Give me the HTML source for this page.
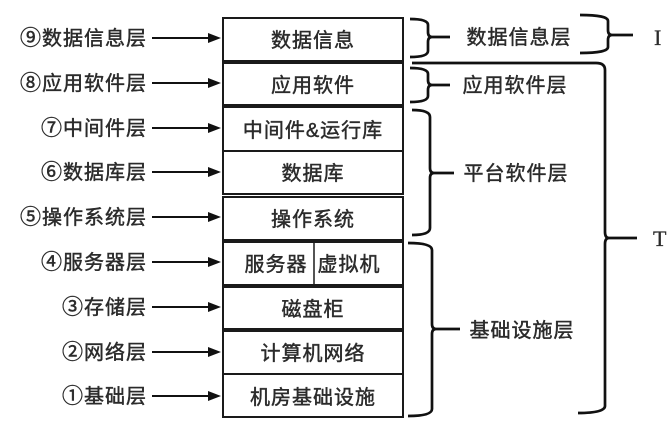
<!DOCTYPE html>
<html><head><meta charset="utf-8"><style>
html,body{margin:0;padding:0;background:#fff;}
svg{display:block;}
text{font-family:"Liberation Sans","Noto Sans CJK SC",sans-serif;font-size:20px;fill:#2b2b2b;letter-spacing:1px;stroke:#2b2b2b;stroke-width:0.45px;}
.c{font-family:"Noto Sans CJK SC",sans-serif;font-size:21px;}
.s{font-family:"Liberation Serif","Noto Serif CJK SC",serif;font-size:22px;stroke-width:0.3px;}
</style></head><body>
<svg width="670" height="424" viewBox="0 0 670 424" xmlns="http://www.w3.org/2000/svg">
<rect width="670" height="424" fill="#fff"/>
<g fill="none" stroke="#1a1a1a" stroke-width="2">
<rect x="223" y="18" width="180" height="43"/>
<rect x="223" y="63" width="180" height="42"/>
<rect x="223" y="107" width="180" height="44"/>
<rect x="223" y="151" width="180" height="43"/>
<rect x="223" y="197" width="180" height="43"/>
<rect x="223" y="242" width="180" height="43"/>
<line x1="314" y1="242" x2="314" y2="285" stroke-width="1.5"/>
<rect x="223" y="287" width="180" height="42"/>
<rect x="223" y="331" width="180" height="43"/>
<rect x="223" y="374" width="180" height="43"/>
</g>
<g stroke="#111" stroke-width="2">
<line x1="152" y1="38" x2="210" y2="38"/>
<line x1="152" y1="83" x2="210" y2="83"/>
<line x1="152" y1="128" x2="210" y2="128"/>
<line x1="152" y1="172" x2="210" y2="172"/>
<line x1="152" y1="217" x2="210" y2="217"/>
<line x1="152" y1="262" x2="210" y2="262"/>
<line x1="152" y1="307" x2="210" y2="307"/>
<line x1="152" y1="352" x2="210" y2="352"/>
<line x1="152" y1="396" x2="210" y2="396"/>
</g>
<g fill="#111">
<polygon points="208,33 221,38 208,43"/>
<polygon points="208,78 221,83 208,88"/>
<polygon points="208,123 221,128 208,133"/>
<polygon points="208,167 221,172 208,177"/>
<polygon points="208,212 221,217 208,222"/>
<polygon points="208,257 221,262 208,267"/>
<polygon points="208,302 221,307 208,312"/>
<polygon points="208,347 221,352 208,357"/>
<polygon points="208,391 221,396 208,401"/>
</g>
<g text-anchor="end">
<text x="147" y="45"><tspan class="c">⑨</tspan>数据信息层</text>
<text x="147" y="90"><tspan class="c">⑧</tspan>应用软件层</text>
<text x="147" y="135"><tspan class="c">⑦</tspan>中间件层</text>
<text x="147" y="179"><tspan class="c">⑥</tspan>数据库层</text>
<text x="147" y="224"><tspan class="c">⑤</tspan>操作系统层</text>
<text x="147" y="269"><tspan class="c">④</tspan>服务器层</text>
<text x="147" y="314"><tspan class="c">③</tspan>存储层</text>
<text x="147" y="359"><tspan class="c">②</tspan>网络层</text>
<text x="147" y="403"><tspan class="c">①</tspan>基础层</text>
</g>
<g text-anchor="middle">
<text x="313" y="47">数据信息</text>
<text x="313" y="92">应用软件</text>
<text x="313" y="137">中间件&amp;运行库</text>
<text x="313" y="180">数据库</text>
<text x="313" y="226">操作系统</text>
<text x="276" y="271">服务器</text>
<text x="349" y="271">虚拟机</text>
<text x="313" y="316">磁盘柜</text>
<text x="313" y="360">计算机网络</text>
<text x="313" y="404">机房基础设施</text>
<text x="519" y="44">数据信息层</text>
<text x="515" y="92">应用软件层</text>
<text x="516" y="180">平台软件层</text>
<text x="522" y="337">基础设施层</text>
</g>
<g fill="none" stroke="#111" stroke-width="2.7">
<path d="M410 19 Q428 19 428 25 L428 32 Q428 37 432 37 Q428 37 428 42 L428 51 Q428 57 410 57 M432 37 L450 37"/>
<path d="M410 68 Q428 68 428 74 L428 80 Q428 85 432 85 Q428 85 428 90 L428 96 Q428 102 410 102 M432 85 L450 85"/>
<path d="M412 110 Q430 110 430 117 L430 168 Q430 173 434 173 Q430 173 430 178 L430 228 Q430 235 412 235 M434 173 L454 173"/>
<path d="M408 243 Q432 243 432 250 L432 324 Q432 329 436 329 Q432 329 432 334 L432 409 Q432 416 408 416 M436 329 L460 329"/>
<path d="M580 15 Q608 15 608 21 L608 30 Q608 35 612 35 Q608 35 608 40 L608 47 Q608 53 580 53 M612 35 L633 35"/>
<path d="M412 63 L596 63 Q605 63 605 70 L605 232 Q605 238 609 238 Q605 238 605 244 L605 406 Q605 413 578 413 M609 238 L637 238"/>
</g>
<text class="s" x="654" y="45">I</text>
<text class="s" x="653" y="246">T</text>
</svg>
</body></html>
